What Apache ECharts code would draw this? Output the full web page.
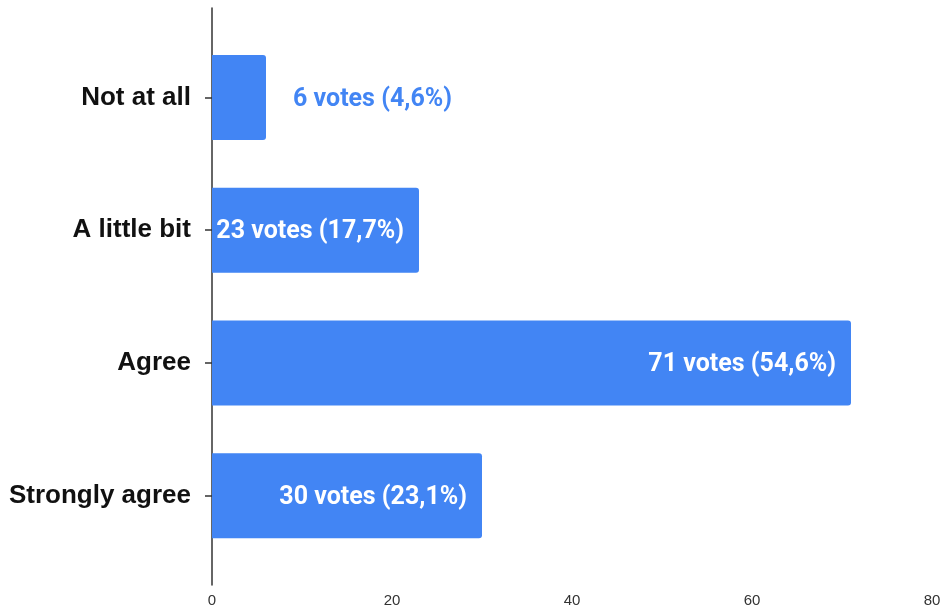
<!DOCTYPE html>
<html>
<head>
<meta charset="utf-8">
<script src="https://cdn.jsdelivr.net/npm/echarts@6/dist/echarts.min.js"></script>
<style>
  html, body { margin: 0; padding: 0; background: #ffffff; }
  #chart { width: 943px; height: 612px; }
</style>
</head>
<body>
<div id="chart"></div>
<script>
// Survey answers, top to bottom
const categories = ['Not at all', 'A little bit', 'Agree', 'Strongly agree'];
const votes = [6, 23, 71, 30];
const xTicks = [0, 20, 40, 60, 80];

const BLUE = '#4285F4';
const total = votes.reduce((a, b) => a + b, 0);

function labelText(v) {
  const pct = (v / total * 100).toFixed(1).replace('.', ',');
  return v + ' votes (' + pct + '%)';
}

// Short bars get their label outside, in bar colour
const barData = votes.map(v => {
  const item = { value: v };
  if (v < 15) {
    item.label = { position: 'right', distance: 27, color: BLUE };
  }
  return item;
});

const chart = echarts.init(document.getElementById('chart'));
chart.setOption({
  animation: false,
  grid: [
    { left: 212, right: 11, top: 31, bottom: 50, containLabel: false, outerBoundsMode: 'none' },
    // taller frame used only for the vertical axis line
    { left: 212, right: 11, top: 8, bottom: 27, containLabel: false, outerBoundsMode: 'none' }
  ],
  xAxis: [
    {
      gridIndex: 0,
      type: 'value',
      min: xTicks[0],
      max: xTicks[xTicks.length - 1],
      interval: xTicks[1] - xTicks[0],
      axisLine: { show: false },
      axisTick: { show: false },
      splitLine: { show: false },
      axisLabel: {
        margin: 31,
        fontFamily: "'Liberation Sans', Arial, sans-serif",
        fontSize: 15,
        color: '#333'
      }
    },
    { gridIndex: 1, type: 'value', show: false, min: 0, max: 1 }
  ],
  yAxis: [
    {
      gridIndex: 0,
      type: 'category',
      data: categories,
      inverse: true,
      axisLine: { show: false },
      axisTick: { show: true, alignWithLabel: true, length: 7, lineStyle: { color: '#333', width: 1.5 } },
      axisLabel: {
        margin: 21,
        fontFamily: "'Liberation Sans', Arial, sans-serif",
        fontWeight: 'bold',
        fontSize: 26,
        color: '#111'
      }
    },
    {
      gridIndex: 1,
      type: 'value',
      min: 0,
      max: 1,
      axisLine: { show: true, lineStyle: { color: '#333', width: 1.5 } },
      axisTick: { show: false },
      axisLabel: { show: false },
      splitLine: { show: false }
    }
  ],
  series: [
    {
      type: 'bar',
      xAxisIndex: 0,
      yAxisIndex: 0,
      data: barData,
      barWidth: 85,
      itemStyle: { color: BLUE, borderRadius: [0, 3, 3, 0] },
      label: {
        show: true,
        position: 'insideRight',
        distance: 15,
        offset: [0, 2],
        color: '#ffffff',
        fontFamily: 'Roboto, sans-serif',
        fontWeight: 'bold',
        fontSize: 25,
        formatter: p => labelText(p.value)
      },
      z: 1
    }
  ]
});
</script>
</body>
</html>
